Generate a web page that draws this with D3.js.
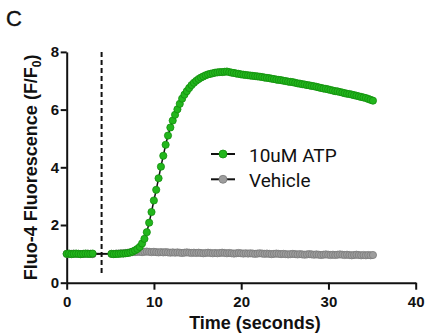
<!DOCTYPE html>
<html>
<head>
<meta charset="utf-8">
<script src="https://cdn.jsdelivr.net/npm/d3@7"></script>
<style>
  html, body { margin: 0; padding: 0; background: #fff; }
  svg { display: block; }
</style>
</head>
<body>
<svg id="chart" width="426" height="334"></svg>
<script>
// ---- data ----
const xTicks = [0, 10, 20, 30, 40];
const yTicks = [0, 2, 4, 6, 8];
const seriesNames = ["10uM ATP", "Vehicle"];
const stimulusTime = 4;

const timeSec = [
  0.00, 0.27, 0.54, 0.81, 1.08, 1.35, 1.62, 1.89, 2.16, 2.43, 2.70, 2.97,
  5.13, 5.40, 5.67, 5.94, 6.21, 6.48, 6.75, 7.02, 7.29, 7.56,
  7.83, 8.10, 8.37, 8.64, 8.91, 9.18, 9.45, 9.72, 9.99, 10.26,
  10.53, 10.80, 11.07, 11.34, 11.61, 11.88, 12.15, 12.42, 12.69, 12.96,
  13.23, 13.50, 13.77, 14.04, 14.31, 14.58, 14.85, 15.12, 15.39, 15.66,
  15.93, 16.20, 16.47, 16.74, 17.01, 17.28, 17.55, 17.82, 18.09, 18.36,
  18.63, 18.90, 19.17, 19.44, 19.71, 19.98, 20.25, 20.52, 20.79, 21.06,
  21.33, 21.60, 21.87, 22.14, 22.41, 22.68, 22.95, 23.22, 23.49, 23.76,
  24.03, 24.30, 24.57, 24.84, 25.11, 25.38, 25.65, 25.92, 26.19, 26.46,
  26.73, 27.00, 27.27, 27.54, 27.81, 28.08, 28.35, 28.62, 28.89, 29.16,
  29.43, 29.70, 29.97, 30.24, 30.51, 30.78, 31.05, 31.32, 31.59, 31.86,
  32.13, 32.40, 32.67, 32.94, 33.21, 33.48, 33.75, 34.02, 34.29, 34.56,
  34.83, 35.10
];

const atpValues = [
  1.00, 1.01, 0.99, 1.00, 1.01, 1.00, 0.99, 1.00, 1.01, 1.00, 1.00, 1.01,
  1.00, 0.99, 1.00, 1.00, 1.01, 1.01, 1.02, 1.03, 1.05, 1.08,
  1.12, 1.17, 1.24, 1.36, 1.52, 1.75, 2.08, 2.45, 2.85, 3.22,
  3.62, 4.02, 4.40, 4.78, 5.10, 5.38, 5.62, 5.82, 6.01, 6.20,
  6.38, 6.52, 6.64, 6.75, 6.85, 6.93, 7.00, 7.06, 7.11, 7.15,
  7.19, 7.22, 7.24, 7.26, 7.28, 7.29, 7.30, 7.30, 7.31, 7.32,
  7.30, 7.28, 7.27, 7.25, 7.24, 7.22, 7.21, 7.20, 7.19, 7.18,
  7.17, 7.16, 7.15, 7.14, 7.13, 7.11, 7.10, 7.09, 7.07, 7.06,
  7.04, 7.03, 7.02, 7.00, 6.99, 6.97, 6.96, 6.95, 6.93, 6.91,
  6.90, 6.88, 6.87, 6.85, 6.84, 6.82, 6.81, 6.79, 6.77, 6.75,
  6.73, 6.72, 6.70, 6.68, 6.66, 6.64, 6.63, 6.61, 6.59, 6.57,
  6.55, 6.54, 6.52, 6.50, 6.48, 6.46, 6.44, 6.42, 6.40, 6.37,
  6.34, 6.31
];

const vehicleValues = [
  1.00, 0.99, 1.00, 1.01, 1.00, 1.00, 0.99, 1.00, 1.00, 1.01, 1.00, 0.99,
  1.00, 1.00, 1.01, 1.01, 1.02, 1.02, 1.03, 1.04, 1.05, 1.06,
  1.06, 1.07, 1.07, 1.06, 1.07, 1.08, 1.07, 1.06, 1.07, 1.06,
  1.05, 1.06, 1.05, 1.06, 1.05, 1.04, 1.05, 1.04, 1.05, 1.04,
  1.03, 1.04, 1.05, 1.04, 1.03, 1.04, 1.03, 1.04, 1.03, 1.02,
  1.03, 1.04, 1.03, 1.02, 1.03, 1.02, 1.03, 1.04, 1.03, 1.02,
  1.03, 1.02, 1.01, 1.02, 1.03, 1.02, 1.01, 1.02, 1.01, 1.02,
  1.01, 1.00, 1.01, 1.02, 1.01, 1.00, 1.01, 1.00, 0.99, 1.00,
  1.01, 1.00, 0.99, 1.00, 0.99, 0.98, 0.99, 1.00, 0.99, 0.98,
  0.99, 0.98, 0.97, 0.98, 0.99, 0.98, 0.97, 0.98, 0.97, 0.96,
  0.97, 0.98, 0.97, 0.96, 0.97, 0.96, 0.97, 0.98, 0.97, 0.96,
  0.97, 0.96, 0.95, 0.96, 0.97, 0.96, 0.95, 0.96, 0.95, 0.96,
  0.95, 0.96
];

// ---- drawing ----
const svg = d3.select("#chart");
const x = d3.scaleLinear().domain([0, 40]).range([66.7, 415.7]);
const y = d3.scaleLinear().domain([0, 8]).range([282.7, 51.9]);

const COLORS = {
  atpFill: "#22b61c", atpStroke: "#118e0d",
  vehFill: "#9d9d9d", vehStroke: "#7a7a7a"
};

// panel letter
svg.append("text").attr("x", 6).attr("y", 25.7)
  .attr("font-family", "'Liberation Sans', Arial, sans-serif")
  .attr("font-size", 22).attr("fill", "#111")
  .attr("stroke", "#111").attr("stroke-width", 0.4).text("C");

// stimulus dashed line
svg.append("line")
  .attr("x1", x(stimulusTime)).attr("x2", x(stimulusTime))
  .attr("y1", y(8)).attr("y2", y(0.25))
  .attr("stroke", "#111").attr("stroke-width", 2)
  .attr("stroke-dasharray", "5,3");

// axes
const xAxis = d3.axisBottom(x).tickValues(xTicks).tickSize(7).tickSizeOuter(0).tickPadding(7);
const yAxis = d3.axisLeft(y).tickValues(yTicks).tickSize(6).tickSizeOuter(0).tickPadding(1.5);

function styleAxis(g) {
  g.select(".domain").attr("stroke", "#111").attr("stroke-width", 2);
  g.selectAll(".tick line").attr("stroke", "#111").attr("stroke-width", 2);
  g.selectAll(".tick text")
    .attr("font-family", "'Liberation Sans', Arial, sans-serif")
    .attr("font-weight", "bold").attr("font-size", 15).attr("fill", "#111");
}
svg.append("g").attr("transform", `translate(0,${y(0)})`).call(xAxis).call(styleAxis);
svg.append("g").attr("transform", `translate(${x(0)},0)`).call(yAxis).call(styleAxis);

// axis titles
svg.append("text").attr("x", 255).attr("y", 329)
  .attr("text-anchor", "middle")
  .attr("font-family", "'Liberation Sans', Arial, sans-serif")
  .attr("font-weight", "bold").attr("font-size", 18).attr("fill", "#111")
  .text("Time (seconds)");

const yl = svg.append("text")
  .attr("transform", `translate(37,${(y(0) + y(8)) / 2}) rotate(-90)`)
  .attr("text-anchor", "middle")
  .attr("font-family", "'Liberation Sans', Arial, sans-serif")
  .attr("font-weight", "bold").attr("font-size", 18).attr("fill", "#111");
yl.append("tspan").text("Fluo-4 Fluorescence (F/F");
yl.append("tspan").attr("font-size", 12).attr("dy", 4).text("0");
yl.append("tspan").attr("dy", -4).text(")");

// series
const atp = timeSec.map((t, i) => ({ t, v: atpValues[i] }));
const veh = timeSec.map((t, i) => ({ t, v: vehicleValues[i] }));
const line = d3.line().x(d => x(d.t)).y(d => y(d.v));

function drawSeries(data, fill, stroke) {
  svg.append("path").datum(data).attr("d", line)
    .attr("fill", "none").attr("stroke", "#111").attr("stroke-width", 1.5);
  svg.append("g").selectAll("circle").data(data).join("circle")
    .attr("cx", d => x(d.t)).attr("cy", d => y(d.v)).attr("r", 3.6)
    .attr("fill", fill).attr("stroke", stroke).attr("stroke-width", 0.8);
}
drawSeries(veh, COLORS.vehFill, COLORS.vehStroke);
drawSeries(atp, COLORS.atpFill, COLORS.atpStroke);

// legend
const legend = [
  { name: seriesNames[0], fill: COLORS.atpFill, stroke: COLORS.atpStroke, cy: 154, ty: 161.5 },
  { name: seriesNames[1], fill: COLORS.vehFill, stroke: COLORS.vehStroke, cy: 179.3, ty: 186.5 }
];
const lg = svg.append("g");
legend.forEach(d => {
  lg.append("line").attr("x1", 211).attr("x2", 235).attr("y1", d.cy).attr("y2", d.cy)
    .attr("stroke", "#111").attr("stroke-width", 2);
  lg.append("circle").attr("cx", 223).attr("cy", d.cy).attr("r", 4)
    .attr("fill", d.fill).attr("stroke", d.stroke).attr("stroke-width", 0.8);
  lg.append("text").attr("x", 249).attr("y", d.ty)
    .attr("font-family", "Roboto, sans-serif").attr("font-size", 19).attr("fill", "#111")
    .text(d.name);
});
</script>
</body>
</html>
